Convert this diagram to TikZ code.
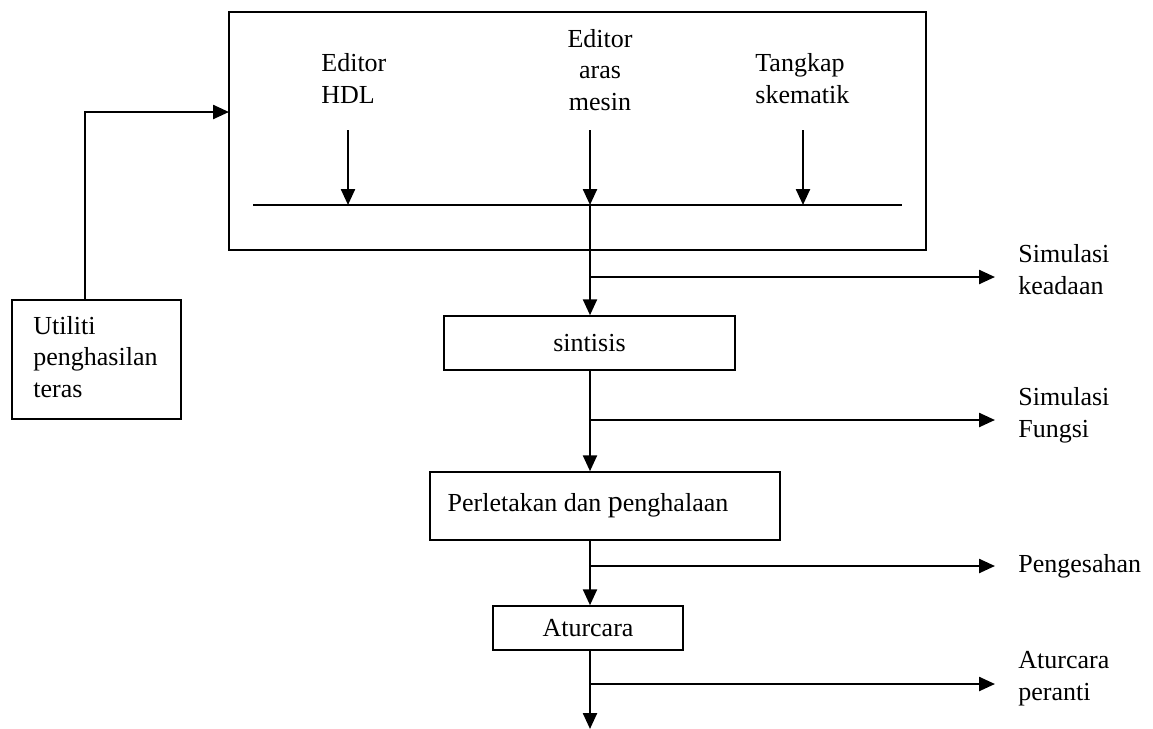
\documentclass[tikz,border=0pt]{standalone}
\usepackage{fontspec}
\setmainfont{Liberation Serif}
\usetikzlibrary{arrows.meta}
\begin{document}
\begin{tikzpicture}[x=0.5pt,y=-0.5pt,
  box/.style={draw,line width=0.75pt,inner sep=0pt,font=\fontsize{13}{15.75}\selectfont},
  conn/.style={line width=1.2pt,-{Triangle[length=8pt,width=7pt]}},
  wire/.style={line width=1.2pt},
  lbl/.style={font=\fontsize{13}{15.75}\selectfont,inner sep=0pt},
  side/.style={font=\fontsize{13}{16}\selectfont,align=left,inner sep=0pt,anchor=base west},
]
\useasboundingbox (0,0) rectangle (1153,729);
% boxes
\node[box,minimum width=348.5pt,minimum height=119pt] (top) at (577.5,131) {};
\node[box,minimum width=145.5pt,minimum height=27pt] (sint) at (589.5,343) {sintisis};
\node[box,minimum width=175pt,minimum height=34pt] (perl) at (605,506) {};
\node[lbl] (perlt) at (588,506) {Perletakan dan {\fontsize{15}{15}\selectfont p}enghalaan};
\node[box,minimum width=95pt,minimum height=22pt] (atur) at (588,628) {Aturcara};
\node[box,minimum width=84.5pt,minimum height=59.5pt] (util) at (96.5,359.5) {};
\node[lbl,align=left,anchor=base west] (utilt) at (33,397) {Utiliti\\penghasilan\\teras};
% labels in the top box
\node[lbl,align=left,anchor=base west] (hdl) at (321,103) {Editor\\HDL};
\node[lbl,align=center,anchor=base] (aras) at (600,110) {Editor\\aras\\mesin};
\node[lbl,align=left,anchor=base west] (skem) at (755,103) {Tangkap\\skematik};
% side labels
\node[side] (sk) at (1018,294) {Simulasi\\keadaan};
\node[side] (sf) at (1018,437) {Simulasi\\Fungsi};
\node[side] (pg) at (1018,572) {Pengesahan};
\node[side] (ap) at (1018,700) {Aturcara\\peranti};
% bus line
\coordinate (busL) at (253,205);
\coordinate (busR) at (902,205);
\draw[wire] (busL) -- (busR);
\coordinate (a1) at (348,130); \coordinate (b1) at (348,205);
\coordinate (a2) at (590,130); \coordinate (b2) at (590,205);
\coordinate (a3) at (803,130); \coordinate (b3) at (803,205);
\draw[conn] (a1) -- (b1);
\draw[conn] (a2) -- (b2);
\draw[conn] (a3) -- (b3);
% main flow
\draw[conn] (b2) -- (590,0 |- sint.north);
\draw[conn] (590,0 |- sint.south) -- (590,0 |- perl.north);
\draw[conn] (590,0 |- perl.south) -- (590,0 |- atur.north);
\coordinate (endp) at (590,729);
\draw[conn] (590,0 |- atur.south) -- (endp);
% branches
\coordinate (j1) at (590,277); \coordinate (e1) at (995,277);
\coordinate (j2) at (590,420); \coordinate (e2) at (995,420);
\coordinate (j3) at (590,566); \coordinate (e3) at (995,566);
\coordinate (j4) at (590,684); \coordinate (e4) at (995,684);
\draw[conn] (j1) -- (e1);
\draw[conn] (j2) -- (e2);
\draw[conn] (j3) -- (e3);
\draw[conn] (j4) -- (e4);
% utility connector
\coordinate (u0) at (85,300);
\coordinate (u1) at (229,112);
\draw[conn] (u0) |- (u1);
\end{tikzpicture}
\end{document}
